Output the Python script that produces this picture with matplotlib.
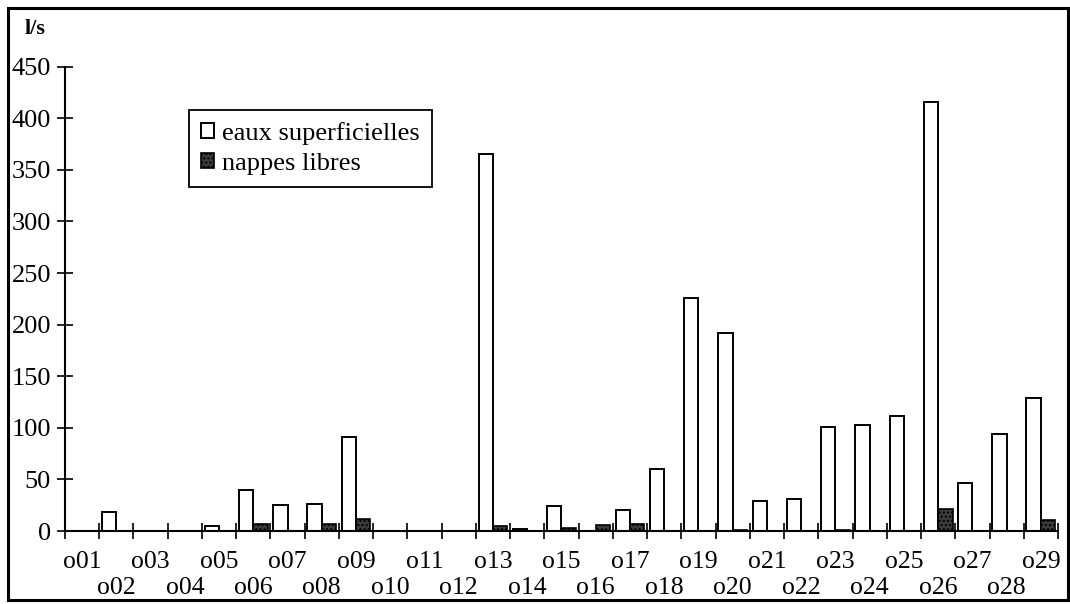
import matplotlib
matplotlib.use("Agg")
import matplotlib.pyplot as plt
import matplotlib.transforms as mtransforms
from matplotlib.patches import Rectangle
import numpy as np

plt.rcParams['font.family'] = ['Liberation Serif', 'DejaVu Serif']

# data
stations = ['o%02d' % i for i in range(1, 30)]
eaux_superficielles = [0, 18, 0, 0, 5, 40, 25, 26, 91, 0,
                       0, 0, 365, 2, 24, 0, 20, 60, 226, 192,
                       29, 31, 101, 103, 111, 416, 47, 94, 129]
nappes_libres = [0, 0, 0, 0, 0, 7, 0, 7, 12, 0,
                 0, 0, 5, 0, 3, 6, 7, 0, 0, 1,
                 0, 0, 1, 0, 0, 21, 0, 0, 11]
y_ticks = [0, 50, 100, 150, 200, 250, 300, 350, 400, 450]

W, H = 1070, 604
fig = plt.figure(figsize=(W / 100, H / 100), dpi=100)
ax = fig.add_axes([65 / W, 1 - 531 / H, (1058 - 65) / W, (531 - 66.7) / H])

x = np.arange(len(stations)) + 0.5
w = 0.42
ax.bar(x - w / 2, eaux_superficielles, width=w, facecolor='white',
       edgecolor='black', linewidth=1.4, label='eaux superficielles')
ax.bar(x + w / 2, nappes_libres, width=w, facecolor='#3c3c3c',
       edgecolor='black', linewidth=1.2, hatch='....', label='nappes libres')

ax.set_xlim(0, len(stations))
ax.set_ylim(0, 450)
ax.set_yticks(y_ticks)
ax.tick_params(axis='y', direction='inout', length=12, width=1.2,
               labelsize=19, pad=4)

# tick marks between categories, labels drawn in two staggered rows
ax.set_xticks(np.arange(len(stations) + 1))
ax.set_xticklabels([])
ax.tick_params(axis='x', direction='inout', length=12, width=1.2)
trans = mtransforms.blended_transform_factory(ax.transData, ax.transAxes)
for i, name in enumerate(stations):
    dy = -31 if i % 2 == 0 else -57
    off = mtransforms.offset_copy(trans, fig=fig, x=0, y=dy * 0.72, units='points')
    ax.text(x[i], 0, name, transform=off, ha='center', va='center',
            fontsize=18.5)

for side in ['top', 'right']:
    ax.spines[side].set_visible(False)
for side in ['left', 'bottom']:
    ax.spines[side].set_linewidth(1.5)

leg = ax.legend(loc='upper left', bbox_to_anchor=(189 / W, 1 - 110 / H),
                bbox_transform=fig.transFigure, borderaxespad=0,
                fancybox=False, framealpha=1, edgecolor='black', fontsize=19,
                handlelength=0.5, handleheight=0.5, handletextpad=0.3,
                labelspacing=0.3, borderpad=0.45)
leg.get_frame().set_linewidth(1.3)

fig.text(25 / W, 1 - 29 / H, 'l/s', fontsize=16, fontweight='bold',
         ha='left', va='center')

# outer frame around the whole picture
fig.patches.append(Rectangle((8 / W, 4 / H), 1060 / W, (H - 12) / H,
                             transform=fig.transFigure, fill=False,
                             edgecolor='black', linewidth=2.2))

fig.savefig('out.png', dpi=100)
